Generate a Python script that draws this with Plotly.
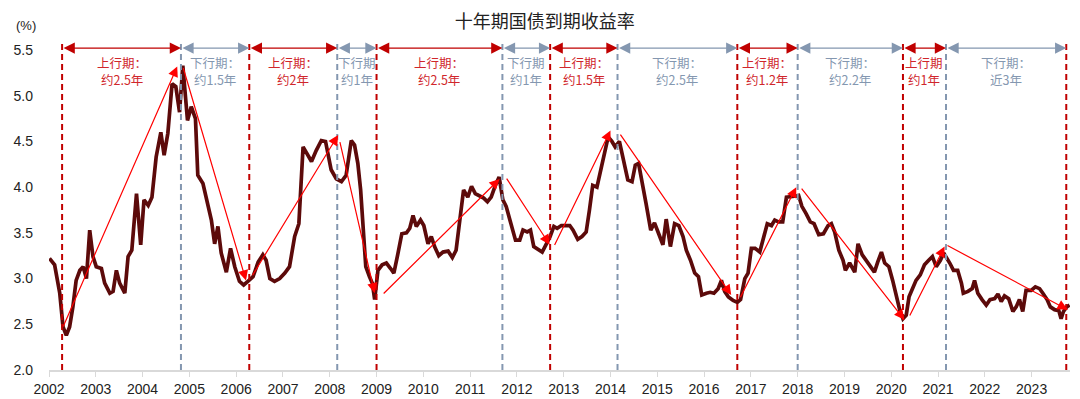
import plotly.graph_objects as go

# ---------------- data ----------------
# decimal years and 10Y government bond yield (%)
dates = [
    2002.01, 2002.12, 2002.23, 2002.30, 2002.37, 2002.44, 2002.51, 2002.58, 2002.66, 2002.73, 2002.80, 2002.87, 2002.94,
    2003.01, 2003.12, 2003.19, 2003.30, 2003.37, 2003.44, 2003.51, 2003.62, 2003.69, 2003.77, 2003.87, 2003.96,
    2004.03, 2004.12, 2004.20, 2004.29, 2004.39, 2004.46, 2004.54, 2004.63, 2004.71, 2004.79, 2004.86, 2004.96,
    2005.04, 2005.13, 2005.18, 2005.29, 2005.40, 2005.47, 2005.54, 2005.61, 2005.68, 2005.79, 2005.88, 2005.97,
    2006.07, 2006.16, 2006.25, 2006.36, 2006.47, 2006.57, 2006.64, 2006.72, 2006.82, 2006.93,
    2007.04, 2007.14, 2007.25, 2007.34, 2007.43, 2007.53, 2007.61, 2007.71, 2007.82, 2007.91,
    2008.03, 2008.14, 2008.25, 2008.35, 2008.46, 2008.53, 2008.60, 2008.66, 2008.71, 2008.77, 2008.85, 2008.91, 2008.96,
    2009.03, 2009.12, 2009.21, 2009.30, 2009.37, 2009.46, 2009.54, 2009.64, 2009.71, 2009.78, 2009.85, 2009.94,
    2010.01, 2010.10, 2010.17, 2010.24, 2010.33, 2010.42, 2010.53, 2010.62, 2010.70, 2010.78, 2010.86, 2010.95,
    2011.03, 2011.11, 2011.20, 2011.29, 2011.37, 2011.45, 2011.54, 2011.62, 2011.70, 2011.77, 2011.84, 2011.92, 2011.97,
    2012.06, 2012.13, 2012.22, 2012.29, 2012.36, 2012.45, 2012.54, 2012.63, 2012.71, 2012.79, 2012.86, 2012.95,
    2013.13, 2013.20, 2013.30, 2013.39, 2013.48, 2013.55, 2013.62, 2013.71, 2013.79, 2013.86, 2013.95,
    2014.03, 2014.10, 2014.19, 2014.28, 2014.37, 2014.46, 2014.53, 2014.60, 2014.67, 2014.76, 2014.86, 2014.94,
    2015.03, 2015.12, 2015.19, 2015.28, 2015.37, 2015.46, 2015.55, 2015.62, 2015.71, 2015.80, 2015.88, 2015.95,
    2016.05, 2016.13, 2016.21, 2016.30, 2016.37, 2016.44, 2016.52, 2016.62, 2016.71, 2016.78, 2016.87, 2016.94,
    2017.01, 2017.09, 2017.19, 2017.27, 2017.35, 2017.44, 2017.51, 2017.59, 2017.68, 2017.76, 2017.85, 2017.93,
    2018.02, 2018.09, 2018.18, 2018.27, 2018.35, 2018.45, 2018.55, 2018.65, 2018.72, 2018.79, 2018.88, 2018.97,
    2019.02, 2019.11, 2019.22, 2019.29, 2019.38, 2019.46, 2019.55, 2019.64, 2019.71, 2019.79, 2019.86, 2019.95,
    2020.03, 2020.11, 2020.18, 2020.25, 2020.32, 2020.38, 2020.46, 2020.53, 2020.62, 2020.71, 2020.80, 2020.88, 2020.96,
    2021.05, 2021.12, 2021.17, 2021.25, 2021.33, 2021.42, 2021.50, 2021.54, 2021.64, 2021.73, 2021.78, 2021.85, 2021.94,
    2022.03, 2022.11, 2022.21, 2022.28, 2022.35, 2022.42, 2022.51, 2022.60, 2022.67, 2022.74, 2022.81, 2022.88, 2022.99,
    2023.08, 2023.17, 2023.24, 2023.33, 2023.40, 2023.49, 2023.58, 2023.63, 2023.68, 2023.75, 2023.81,
]
yields = [
    3.22, 3.15, 2.84, 2.47, 2.38, 2.47, 2.69, 2.98, 3.09, 3.13, 3.00, 3.53, 3.24,
    3.13, 3.11, 2.95, 2.84, 2.86, 3.09, 2.95, 2.84, 3.24, 3.31, 3.93, 3.37,
    3.86, 3.80, 3.89, 4.33, 4.60, 4.35, 4.59, 5.13, 5.10, 4.82, 5.33, 4.73,
    4.88, 4.75, 4.13, 4.04, 3.79, 3.64, 3.38, 3.57, 3.28, 3.07, 3.33, 3.13,
    2.97, 2.93, 2.97, 3.02, 3.18, 3.26, 3.20, 3.00, 2.97, 3.00,
    3.06, 3.13, 3.46, 3.60, 4.44, 4.35, 4.28, 4.40, 4.51, 4.50,
    4.19, 4.09, 4.06, 4.13, 4.51, 4.46, 4.26, 3.97, 3.57, 3.13, 3.02, 2.95, 2.77,
    3.09, 3.15, 3.17, 3.11, 3.06, 3.28, 3.49, 3.50, 3.55, 3.69, 3.57, 3.64,
    3.58, 3.38, 3.46, 3.35, 3.25, 3.29, 3.30, 3.23, 3.31, 3.64, 3.97, 3.89,
    4.01, 3.93, 3.91, 3.88, 3.84, 3.89, 4.02, 4.11, 3.86, 3.79, 3.66, 3.49, 3.42,
    3.42, 3.53, 3.51, 3.53, 3.35, 3.32, 3.29, 3.38, 3.46, 3.57, 3.55, 3.58,
    3.58, 3.53, 3.43, 3.46, 3.51, 3.75, 4.02, 4.00, 4.19, 4.35, 4.55,
    4.50, 4.44, 4.50, 4.30, 4.08, 4.06, 4.24, 4.26, 4.08, 3.82, 3.53, 3.61,
    3.49, 3.37, 3.65, 3.35, 3.60, 3.58, 3.46, 3.31, 3.20, 3.06, 3.02, 2.82,
    2.84, 2.85, 2.84, 2.89, 2.98, 2.86, 2.80, 2.76, 2.74, 2.77, 3.00, 3.06,
    3.33, 3.33, 3.29, 3.46, 3.60, 3.58, 3.64, 3.62, 3.62, 3.89, 3.89, 3.90,
    3.91, 3.79, 3.71, 3.62, 3.60, 3.48, 3.49, 3.58, 3.60, 3.51, 3.31, 3.20,
    3.09, 3.17, 3.07, 3.38, 3.26, 3.20, 3.13, 3.07, 3.18, 3.29, 3.17, 3.13,
    2.98, 2.80, 2.66, 2.56, 2.60, 2.80, 2.91, 2.98, 3.04, 3.15, 3.20, 3.24, 3.13,
    3.20, 3.28, 3.24, 3.17, 3.09, 3.09, 2.95, 2.84, 2.86, 2.89, 2.98, 2.84, 2.77,
    2.71, 2.77, 2.78, 2.83, 2.75, 2.81, 2.78, 2.64, 2.69, 2.77, 2.64, 2.87, 2.87,
    2.91, 2.89, 2.84, 2.77, 2.69, 2.66, 2.65, 2.56, 2.64, 2.69, 2.71,
]

# turning points of the cycle (trough, peak, trough, ...)
turn_dates = [2002.28, 2004.82, 2006.28, 2008.16, 2009.00, 2011.69, 2012.71,
              2014.15, 2016.71, 2018.00, 2020.25, 2021.17, 2023.74]

phase_line1 = ["上行期：", "下行期：", "上行期：", "下行期", "上行期：", "下行期",
               "上行期：", "下行期：", "上行期：", "下行期：", "上行期", "下行期："]
phase_line2 = ["约2.5年", "约1.5年", "约2年", "约1年", "约2.5年", "约1年",
               "约1.5年", "约2.5年", "约1.2年", "约2.2年", "约1年", "近3年"]

# trend arrows (tail -> head)
trend_x0 = [2002.29, 2004.86, 2006.33, 2008.21, 2009.12, 2011.76, 2012.79, 2014.19, 2016.76, 2018.06, 2020.38, 2021.17]
trend_y0 = [2.46, 5.32, 3.02, 4.51, 2.82, 4.11, 3.35, 4.59, 2.78, 4.00, 2.58, 3.37]
trend_x1 = [2004.74, 2006.21, 2008.18, 2008.96, 2011.63, 2012.70, 2014.00, 2016.58, 2017.97, 2020.28, 2021.14, 2023.77]
trend_y1 = [5.32, 2.98, 4.57, 2.84, 4.09, 3.37, 4.62, 2.82, 4.00, 2.55, 3.35, 2.66]

year_ticks = list(range(2002, 2024))
y_ticks = [2.0, 2.5, 3.0, 3.5, 4.0, 4.5, 5.0, 5.5]

# ---------------- styles ----------------
RED = "#C00000"
RED_TXT = "#D0262B"
GREY = "#8497B0"
LINE = "#5C0A0A"
ARROW_RED = "#FF0000"
CJK = "Noto Sans CJK SC"
LAT = "Liberation Sans, Arial, sans-serif"

fig = go.Figure()
fig.add_trace(go.Scatter(x=dates, y=yields, mode="lines",
                         line=dict(color=LINE, width=3.7), hoverinfo="skip", showlegend=False))

shapes = []
annotations = []
for i, d in enumerate(turn_dates):
    is_trough = (i % 2 == 0)
    shapes.append(dict(type="line", xref="x", yref="paper", x0=d, x1=d, y0=0, y1=1.025,
                       line=dict(color=RED if is_trough else GREY, width=2, dash="6px,4px"),
                       layer="above"))

for i in range(len(turn_dates) - 1):
    up = (i % 2 == 0)
    col = RED if up else GREY
    a, b = turn_dates[i], turn_dates[i + 1]
    annotations.append(dict(x=b, y=1.006, ax=a, ay=0, xref="x", yref="paper", axref="x", ayref="pixel",
                            text="", showarrow=True, arrowside="end+start",
                            arrowhead=2, startarrowhead=2, arrowsize=1.6, startarrowsize=1.6,
                            arrowwidth=1.4, arrowcolor=col))
    tcol = RED_TXT if up else GREY
    annotations.append(dict(x=(a + b) / 2, y=5.36, xref="x", yref="y", text=phase_line1[i],
                            showarrow=False, xanchor="center", yanchor="middle",
                            font=dict(family=CJK, size=12.5, color=tcol)))
    annotations.append(dict(x=(a + b) / 2, y=5.175, xref="x", yref="y", text=phase_line2[i],
                            showarrow=False, xanchor="center", yanchor="middle",
                            font=dict(family=CJK, size=12.5, color=tcol)))

for x0, y0, x1, y1 in zip(trend_x0, trend_y0, trend_x1, trend_y1):
    annotations.append(dict(x=x1, y=y1, ax=x0, ay=y0, xref="x", yref="y", axref="x", ayref="y",
                            text="", showarrow=True, arrowhead=2, arrowsize=1.7, arrowwidth=1.2,
                            arrowcolor=ARROW_RED))

annotations.append(dict(x=-0.0225, y=1.078, xref="paper", yref="paper", text="(%)", showarrow=False,
                        xanchor="center", yanchor="middle", font=dict(family=LAT, size=13, color="#222222")))

# the page adds an 8px body margin, so the figure is laid out 8px up/left of the target
fig.update_layout(
    width=1080, height=399,
    margin=dict(l=41, r=18, t=42, b=37, pad=0, autoexpand=False),
    paper_bgcolor="white", plot_bgcolor="white",
    title=dict(text="十年期国债到期收益率", xref="container", yref="container", x=0.497, y=0.966,
               xanchor="center", yanchor="middle", automargin=False,
               font=dict(family=CJK, size=18, color="#222222")),
    shapes=shapes, annotations=annotations,
    xaxis=dict(range=[2002, 2023.82], tickvals=year_ticks, ticktext=[str(t) for t in year_ticks],
               showgrid=False, zeroline=False, showline=True, linecolor="#D9D9D9", linewidth=1.5,
               ticks="outside", ticklen=5, tickcolor="#D9D9D9", tickwidth=1.2, automargin=False,
               tickfont=dict(family=LAT, size=14, color="#222222")),
    yaxis=dict(range=[2.0, 5.5], tickvals=y_ticks, tickformat=".1f", showgrid=False, zeroline=False,
               showline=False, ticks="", ticklabelstandoff=15, automargin=False,
               tickfont=dict(family=LAT, size=14, color="#222222")),
)

fig.write_html("out.html")
